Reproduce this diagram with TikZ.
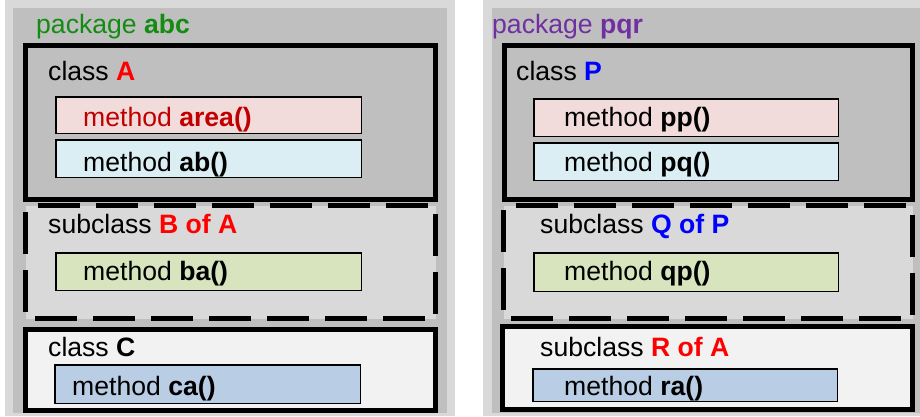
\documentclass[tikz,border=0pt]{standalone}
\usepackage{fontspec}
\setmainfont{Liberation Sans}
\definecolor{pkglight}{HTML}{D9D9D9}
\definecolor{pkgmid}{HTML}{BFBFBF}
\definecolor{subfill}{HTML}{D9D9D9}
\definecolor{cfill}{HTML}{F2F2F2}
\definecolor{mpink}{HTML}{F2DCDB}
\definecolor{mcyan}{HTML}{DAEEF3}
\definecolor{mgreen}{HTML}{D7E4BD}
\definecolor{mblue}{HTML}{B9CDE5}
\definecolor{pkggreen}{RGB}{20,140,20}
\definecolor{pkgpurple}{HTML}{7030A0}
\definecolor{darkred}{HTML}{C00000}
\definecolor{pureblue}{HTML}{0000FF}
\definecolor{purered}{HTML}{FF0000}
\begin{document}
\begin{tikzpicture}[x=1pt,y=-1pt,
  lbl/.style={inner sep=0pt,anchor=base west,font=\fontsize{26.6}{30}\selectfont},
  classbox/.style={draw=black,line width=5pt},
  subbox/.style={draw=black,line width=5pt,dash pattern=on 42pt off 16pt,dash phase=46pt},
  methbox/.style={draw=black,line width=1.5pt}]
\useasboundingbox (0,0) rectangle (920,416);
% left package
\fill[pkglight] (5,0) rectangle (455,416);
\fill[pkgmid] (13,8) rectangle (447,413);
\node[lbl,text=pkggreen] (pkgabc) at (36,33) {package \textbf{abc}};
\draw[classbox,fill=pkgmid] (25.5,45.5) rectangle (435.5,199.5);
\node[lbl] (clsA) at (48,80) {class \textcolor{purered}{\textbf{A}}};
\draw[methbox,fill=mpink] (55.75,96.75) rectangle (361.25,133.25);
\node[lbl,text=darkred] (marea) at (83,126.7) {method \textbf{area()}};
\draw[methbox,fill=mcyan] (55.75,139.75) rectangle (361.25,177.25);
\node[lbl] (mab) at (83,171.7) {method \textbf{ab()}};
\fill[subfill] (25.5,205.5) rectangle (435.5,318.5);
\draw[subbox] (25.5,205.5) -- (435.5,205.5) -- (435.5,318.5) -- (25.5,318.5) -- cycle;
\node[lbl] (subB) at (48,233) {subclass \textcolor{purered}{\textbf{B of A}}};
\draw[methbox,fill=mgreen] (55.75,252.75) rectangle (361.25,290.25);
\node[lbl] (mba) at (83,280.7) {method \textbf{ba()}};
\draw[classbox,fill=cfill] (25.5,329.5) rectangle (435.5,410.5);
\node[lbl] (clsC) at (48,356.7) {class \textbf{C}};
\draw[methbox,fill=mblue] (54.75,364.75) rectangle (360.25,403.25);
\node[lbl] (mca) at (72,395) {method \textbf{ca()}};
% right package
\fill[pkglight] (483,0) rectangle (920,416);
\fill[pkgmid] (492,8) rectangle (920,413);
\node[lbl,text=pkgpurple] (pkgpqr) at (492,33) {package \textbf{pqr}};
\draw[classbox,fill=pkgmid] (504.5,45.5) rectangle (912.5,199.5);
\node[lbl] (clsP) at (516,80) {class \textcolor{pureblue}{\textbf{P}}};
\draw[methbox,fill=mpink] (533.75,98.75) rectangle (838.25,136.25);
\node[lbl] (mpp) at (564,126.7) {method \textbf{pp()}};
\draw[methbox,fill=mcyan] (533.75,142.75) rectangle (838.25,180.25);
\node[lbl] (mpq) at (564,171.7) {method \textbf{pq()}};
\fill[subfill] (503.5,205.5) rectangle (912.5,318.5);
\draw[subbox] (503.5,205.5) -- (912.5,205.5) -- (912.5,318.5) -- (503.5,318.5) -- cycle;
\node[lbl] (subQ) at (540,233) {subclass \textcolor{pureblue}{\textbf{Q of P}}};
\draw[methbox,fill=mgreen] (533.75,252.75) rectangle (838.25,291.25);
\node[lbl] (mqp) at (564,280.7) {method \textbf{qp()}};
\draw[classbox,fill=cfill] (502.5,326.5) rectangle (912.5,409.5);
\node[lbl] (subR) at (540,356.7) {subclass \textcolor{purered}{\textbf{R of A}}};
\draw[methbox,fill=mblue] (532.75,368.75) rectangle (837.25,401.25);
\node[lbl] (mra) at (564,395) {method \textbf{ra()}};
\end{tikzpicture}
\end{document}
